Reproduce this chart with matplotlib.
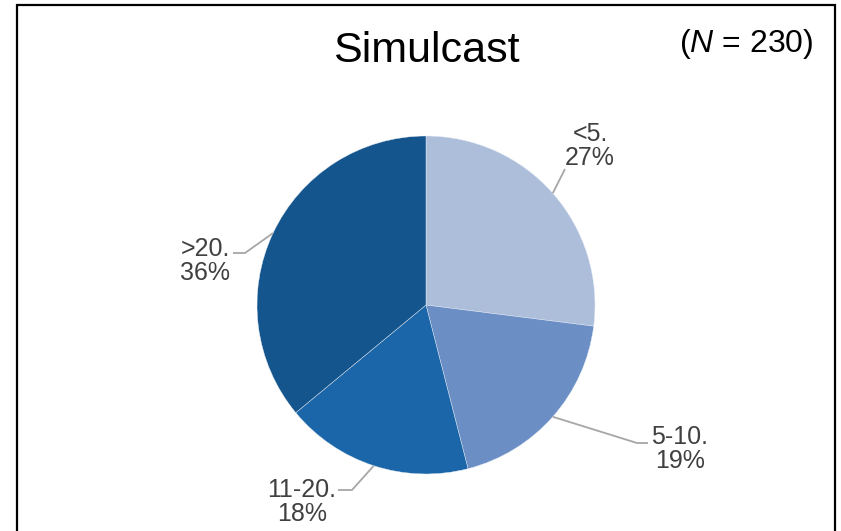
import matplotlib
matplotlib.use("Agg")
import matplotlib.pyplot as plt
import numpy as np

plt.rcParams["font.family"] = ["Liberation Sans", "DejaVu Sans"]
plt.rcParams["mathtext.fontset"] = "custom"
plt.rcParams["mathtext.rm"] = "Liberation Sans"
plt.rcParams["mathtext.it"] = "Liberation Sans:italic"

# Survey data
categories = ["<5", "5-10", "11-20", ">20"]
percents = [27, 19, 18, 36]
n_total = 230
title = "Simulcast"
colors = ["#ADBEDB", "#6B8FC5", "#1B66A9", "#14558E"]

W, H, DPI = 841, 531, 100
fig = plt.figure(figsize=(W / DPI, H / DPI), dpi=DPI)

# pie geometry in pixels
cx, cy, r = 426, 305, 169
ax = fig.add_axes([(cx - r) / W, (H - cy - r) / H, 2 * r / W, 2 * r / H])
ax.set_xlim(-1, 1)
ax.set_ylim(-1, 1)
ax.set_aspect("equal")
ax.axis("off")

wedges, _ = ax.pie(percents, colors=colors, startangle=90, counterclock=False,
                   radius=1, center=(0, 0), frame=False,
                   wedgeprops=dict(edgecolor="#E8EDF5", linewidth=0.3))
ax.set_xlim(-1, 1)
ax.set_ylim(-1, 1)


def px(x, y):
    """pixel position -> pie data coordinates"""
    return (x - cx) / r, (cy - y) / r


# label layout: (text centre, elbow, end of horizontal tick)
layout = {
    "<5": ((590, 146), (565, 169), None),
    "5-10": ((680, 449), (637, 443), (648, 443)),
    "11-20": ((302, 502), (352, 490), (338, 490)),
    ">20": ((205, 261), (245, 253), (233, 253)),
}

line_c = "#A6A6A6"
text_c = "#404040"
cum = 0
for cat, p in zip(categories, percents):
    mid = np.deg2rad(90 - (cum + p / 2) / 100 * 360)
    cum += p
    sx, sy = np.cos(mid), np.sin(mid)
    tpos, elbow, tick = layout[cat]
    pts = [(sx, sy), px(*elbow)]
    if tick is not None:
        pts.append(px(*tick))
    xs, ys = zip(*pts)
    ax.plot(xs, ys, color=line_c, lw=1.3, clip_on=False, solid_capstyle="butt")
    tx, ty = px(*tpos)
    ax.text(tx, ty, f"{cat}.\n{p}%", ha="center", va="center", fontsize=18,
            color=text_c, linespacing=1.05, clip_on=False)

fig.text(426 / W, 1 - 51 / H, title, ha="center", va="center", fontsize=31, color="black")
fig.text(746 / W, 1 - 44 / H, rf"($\mathit{{N}}$ = {n_total})", ha="center", va="center",
         fontsize=23, color="black")

# outer frame (open at the bottom edge)
frame = plt.Rectangle((16.5 / W, -0.05), (835 - 16.5) / W, 1 - 5.5 / H + 0.05,
                      transform=fig.transFigure, fill=False, edgecolor="black", lw=1.6)
fig.add_artist(frame)

fig.savefig("out.png", dpi=DPI)
